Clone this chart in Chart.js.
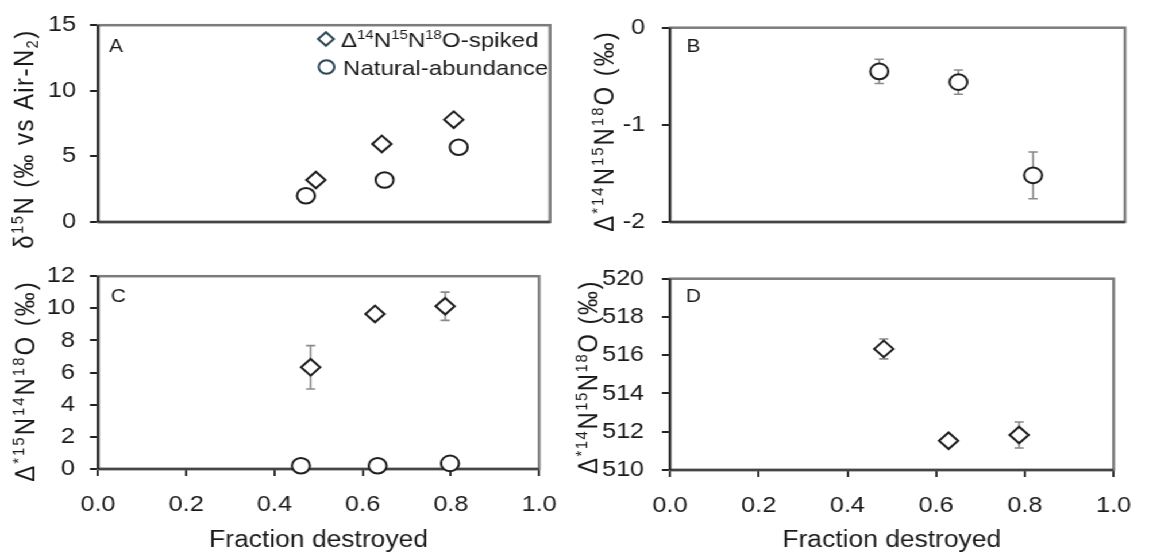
<!DOCTYPE html>
<html><head><meta charset="utf-8">
<script src="https://cdn.jsdelivr.net/npm/chart.js@4.4.1/dist/chart.umd.min.js"></script>
<style>
html,body{margin:0;padding:0;background:#fff;overflow:hidden;width:1149px;height:554px;}
#stage{position:absolute;left:0;top:0;width:1000px;height:554px;transform:scaleX(1.149);transform-origin:0 0;}
#stage canvas{position:absolute;}
</style></head><body>
<div id="stage">
<canvas id="cA" width="500" height="250" style="left:0;top:0"></canvas>
<canvas id="cB" width="530" height="250" style="left:470px;top:0"></canvas>
<canvas id="cC" width="500" height="304" style="left:0;top:250px"></canvas>
<canvas id="cD" width="530" height="304" style="left:470px;top:250px"></canvas>
</div>
<script>
const FONT = '"Liberation Sans", Arial, Helvetica, sans-serif';

// ---- data ----
const fractionSpiked = [0.482, 0.628, 0.787];
const fractionNatural = [0.46, 0.634, 0.798];
const xTickValues = [0, 0.2, 0.4, 0.6, 0.8, 1.0];

const aSpiked = [3.2, 5.95, 7.8];
const aNatural = [2.0, 3.2, 5.7];
const aTicks = [0, 5, 10, 15];

const bNatural = [-0.45, -0.56, -1.52];
const bNaturalErr = [0.125, 0.125, 0.24];
const bTicks = [-2, -1, 0];

const cSpiked = [6.33, 9.65, 10.13];
const cSpikedErr = [1.35, 0, 0.88];
const cNatural = [0.2, 0.2, 0.35];
const cTicks = [0, 2, 4, 6, 8, 10, 12];

const dSpiked = [516.33, 511.53, 511.83];
const dSpikedErr = [0.52, 0, 0.68];
const dTicks = [510, 512, 514, 516, 518, 520];

const xTitle = 'Fraction destroyed';
const panelLetters = ['A', 'B', 'C', 'D'];
const titleA = [['δ','n'],['15','sup'],['N (‰ vs Air-N','n'],['2','sub'],[')','n']];
const titleB = [['Δ','n'],['*14','sup'],['N','n'],['15','sup'],['N','n'],['18','sup'],['O (‰)','n']];
const titleC = [['Δ','n'],['*15','sup'],['N','n'],['14','sup'],['N','n'],['18','sup'],['O (‰)','n']];
const titleD = [['Δ','n'],['*14','sup'],['N','n'],['15','sup'],['N','n'],['18','sup'],['O (‰)','n']];
const legendSpiked = [['Δ','n'],['14','sup'],['N','n'],['15','sup'],['N','n'],['18','sup'],['O-spiked','n']];
const legendNatural = [['Natural-abundance','n']];

// ---- helpers ----
function pts(xs, ys) { return xs.map((x, i) => ({x: x, y: ys[i]})); }

function segSize(k, F) { return k === 'n' ? F : F * 0.62; }
function segDy(k, F) { return k === 'sup' ? -0.38 * F : (k === 'sub' ? 0.17 * F : 0); }

function richWidth(ctx, segs, F, ls) {
  let w = 0;
  ctx.letterSpacing = '0px';
  for (const [t, k] of segs) {
    ctx.font = segSize(k, F) + 'px ' + FONT;
    w += ctx.measureText(t).width + ls * [...t].length;
  }
  return w;
}
function drawRich(ctx, segs, x, y, F, ls) {
  let cx = x;
  for (const [t, k] of segs) {
    ctx.font = segSize(k, F) + 'px ' + FONT;
    ctx.letterSpacing = '0px';
    const w = ctx.measureText(t).width + ls * [...t].length;
    ctx.letterSpacing = ls + 'px';
    ctx.fillText(t, cx, y + segDy(k, F));
    cx += w;
  }
  ctx.letterSpacing = '0px';
}

function spikedDs(ys, errs) {
  return {label: 'Δ14N15N18O-spiked', data: pts(fractionSpiked, ys), errors: errs,
    pointStyle: 'rectRot', pointRadius: 8.3, pointBorderWidth: 2,
    pointBorderColor: '#1e1e1e', pointBackgroundColor: '#ffffff', showLine: false, clip: false};
}
function naturalDs(ys, errs) {
  return {label: 'Natural-abundance', data: pts(fractionNatural, ys), errors: errs,
    pointStyle: 'circle', pointRadius: 7.8, pointBorderWidth: 2,
    pointBorderColor: '#1e1e1e', pointBackgroundColor: '#ffffff', showLine: false, clip: false};
}

const deco = {
  id: 'deco',
  beforeDatasetsDraw(chart, args, o) {
    const ctx = chart.ctx, a = chart.chartArea;
    const xs = chart.scales.x, ys = chart.scales.y;
    ctx.save();
    ctx.strokeStyle = '#7c7c7c'; ctx.lineWidth = 2.5;
    ctx.strokeRect(a.left, a.top, a.right - a.left, a.bottom - a.top);
    ctx.strokeStyle = '#454545'; ctx.lineWidth = 2.5;
    ctx.beginPath(); ctx.moveTo(a.left, a.bottom); ctx.lineTo(a.right, a.bottom); ctx.stroke();
    ctx.strokeStyle = '#202020'; ctx.lineWidth = 2;
    ctx.beginPath(); ctx.moveTo(a.left, a.top); ctx.lineTo(a.left, a.bottom); ctx.stroke();
    // error bars
    ctx.strokeStyle = '#8a8a8a'; ctx.lineWidth = 1.6;
    chart.data.datasets.forEach(ds => {
      if (!ds.errors) return;
      ds.data.forEach((p, i) => {
        const e = ds.errors[i];
        if (!e) return;
        const px = xs.getPixelForValue(p.x);
        const y1 = ys.getPixelForValue(p.y + e), y2 = ys.getPixelForValue(p.y - e);
        ctx.beginPath();
        ctx.moveTo(px, y1); ctx.lineTo(px, y2);
        ctx.moveTo(px - 4, y1); ctx.lineTo(px + 4, y1);
        ctx.moveTo(px - 4, y2); ctx.lineTo(px + 4, y2);
        ctx.stroke();
      });
    });
    ctx.restore();
  },
  afterDraw(chart, args, o) {
    const ctx = chart.ctx;
    ctx.save();
    ctx.fillStyle = '#1a1a1a';
    // panel letter
    ctx.font = '18px ' + FONT;
    ctx.textAlign = 'center'; ctx.textBaseline = 'middle';
    ctx.fillText(o.letter, o.letterX, o.letterY);
    // y title (rotated rich text)
    ctx.textAlign = 'left'; ctx.textBaseline = 'alphabetic';
    const T = o.title;
    const w = richWidth(ctx, T.segs, T.F, T.ls);
    ctx.translate(T.cx + 0.36 * T.F, T.cy);
    ctx.rotate(-Math.PI / 2);
    drawRich(ctx, T.segs, -w / 2, 0, T.F, T.ls);
    ctx.restore();
    // legend
    if (o.legend) {
      ctx.save();
      o.legend.forEach(row => {
        ctx.strokeStyle = '#2c4757'; ctx.lineWidth = 2;
        ctx.beginPath();
        if (row.style === 'diamond') {
          const r = 6.8;
          ctx.moveTo(row.mx - r, row.my); ctx.lineTo(row.mx, row.my - r);
          ctx.lineTo(row.mx + r, row.my); ctx.lineTo(row.mx, row.my + r); ctx.closePath();
        } else {
          ctx.arc(row.mx, row.my, 6.8, 0, Math.PI * 2);
        }
        ctx.stroke();
        ctx.fillStyle = '#1a1a1a';
        ctx.textAlign = 'left'; ctx.textBaseline = 'alphabetic';
        drawRich(ctx, row.segs, row.tx, row.my + 0.36 * 21, 21, 0);
      });
      ctx.restore();
    }
  }
};

function makeChart(id, cfg) {
  const showX = cfg.showX;
  return new Chart(document.getElementById(id), {
    type: 'scatter',
    data: {datasets: cfg.datasets},
    plugins: [deco],
    options: {
      responsive: false, animation: false, events: [],
      layout: {padding: cfg.pad},
      plugins: {
        legend: {display: false}, tooltip: {enabled: false},
        deco: cfg.deco
      },
      scales: {
        x: {
          type: 'linear', min: 0, max: 1, display: showX,
          afterBuildTicks: s => { s.ticks = xTickValues.map(v => ({value: v})); },
          afterFit: s => { s.height = cfg.xH || 0; },
          ticks: {font: {size: 22, family: FONT}, color: '#1a1a1a', padding: 15.5, maxRotation: 0,
            callback: v => Number(v).toFixed(1)},
          grid: {drawOnChartArea: false, drawTicks: true, tickLength: 7, color: '#333', lineWidth: 2},
          border: {display: false},
          title: {display: showX, text: xTitle, font: {size: 23, family: FONT}, color: '#1a1a1a', padding: {top: 0, bottom: 0}}
        },
        y: {
          type: 'linear', min: cfg.yTicks[0], max: cfg.yTicks[cfg.yTicks.length - 1],
          afterBuildTicks: s => { s.ticks = cfg.yTicks.map(v => ({value: v})); },
          afterFit: s => { s.width = cfg.yW; },
          ticks: {font: {size: 22, family: FONT}, color: '#1a1a1a', padding: cfg.yPad,
            callback: v => String(v)},
          grid: {drawOnChartArea: false, drawTicks: true, tickLength: 7, color: '#222', lineWidth: 2},
          border: {display: false}
        }
      }
    }
  });
}

makeChart('cA', {
  showX: false, yW: 85.3, yPad: 12, yTicks: aTicks,
  pad: {left: 0, right: 21.3, top: 23, bottom: 28},
  datasets: [spikedDs(aSpiked, null), naturalDs(aNatural, null)],
  deco: {letter: panelLetters[0], letterX: 101, letterY: 47,
    title: {segs: titleA, cx: 20, cy: 139, F: 24, ls: 1.4},
    legend: [
      {style: 'diamond', mx: 283.7, my: 39, tx: 296.8, segs: legendSpiked},
      {style: 'circle', mx: 284.2, my: 67, tx: 298.5, segs: legendNatural}
    ]}
});
makeChart('cB', {
  showX: false, yW: 113.1, yPad: 14.5, yTicks: bTicks,
  pad: {left: 0, right: 20.9, top: 24, bottom: 28},
  datasets: [naturalDs(bNatural, bNaturalErr)],
  deco: {letter: panelLetters[1], letterX: 133.6, letterY: 47,
    title: {segs: titleB, cx: 55, cy: 131, F: 24, ls: 2.0}}
});
makeChart('cC', {
  showX: true, xH: 85, yW: 85.3, yPad: 13, yTicks: cTicks,
  pad: {left: 0, right: 21.3, top: 20, bottom: 0},
  datasets: [spikedDs(cSpiked, cSpikedErr), naturalDs(cNatural, null)],
  deco: {letter: panelLetters[2], letterX: 103, letterY: 47,
    title: {segs: titleC, cx: 21, cy: 131, F: 24, ls: 2.0}}
});
makeChart('cD', {
  showX: true, xH: 84, yW: 113.1, yPad: 15.5, yTicks: dTicks,
  pad: {left: 0, right: 20.9, top: 20, bottom: 0},
  datasets: [spikedDs(dSpiked, dSpikedErr)],
  deco: {letter: panelLetters[3], letterX: 133.6, letterY: 47.5,
    title: {segs: titleD, cx: 41, cy: 127, F: 24, ls: 1.5}}
});
</script>
</body></html>
